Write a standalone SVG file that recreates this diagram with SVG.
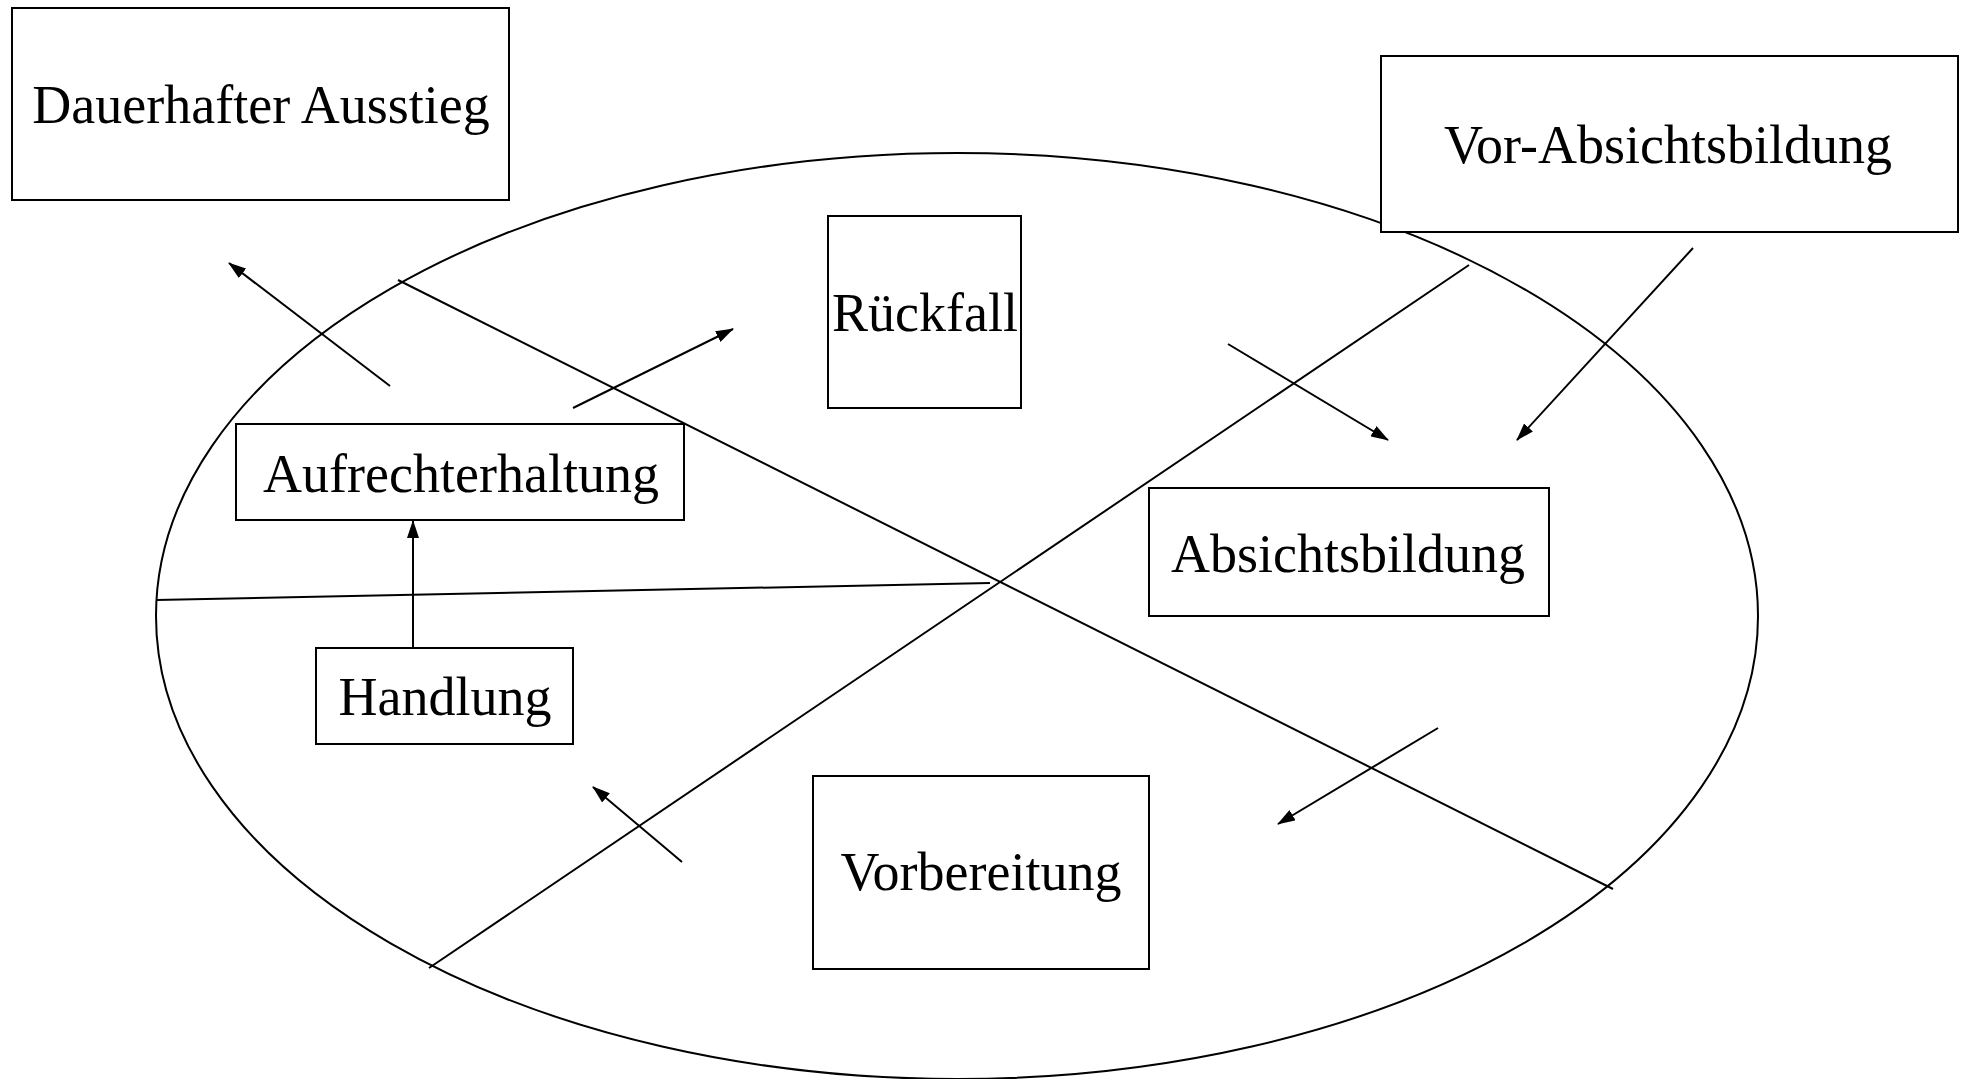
<svg xmlns="http://www.w3.org/2000/svg" width="1961" height="1079" viewBox="0 0 1961 1079">
<style>
.box{fill:#fff;stroke:#000;stroke-width:2}
.lbl{font-family:"Liberation Serif","Times New Roman",serif;font-size:54px;fill:#000;text-anchor:middle}
.ln{stroke:#000;stroke-width:2;fill:none}
.arr{stroke:#000;stroke-width:2;fill:none;marker-end:url(#ah)}
</style>
<defs>
<marker id="ah" markerUnits="userSpaceOnUse" markerWidth="18" markerHeight="12" refX="17" refY="6" orient="auto">
<path d="M0,0 L18,6 L0,12 Z" fill="#000"/>
</marker>
</defs>
<g id="cycle">
<ellipse cx="957" cy="616" rx="801" ry="463" class="ln"/>
</g>
<g id="connectors">
<line x1="398" y1="280" x2="1613" y2="889" class="ln"/>
<line x1="429" y1="968" x2="1469" y2="265" class="ln"/>
<line x1="156" y1="600" x2="990" y2="583" class="ln"/>
<line x1="390" y1="386" x2="229" y2="263" class="arr"/>
<line x1="573" y1="408" x2="733" y2="329" class="arr"/>
<line x1="1228" y1="344" x2="1388" y2="440" class="arr"/>
<line x1="1693" y1="248" x2="1517" y2="440" class="arr"/>
<line x1="1438" y1="728" x2="1278" y2="824" class="arr"/>
<line x1="682" y1="862" x2="593" y2="787" class="arr"/>
<line x1="413" y1="648" x2="413" y2="521" class="arr"/>
</g>
<g id="node-dauerhafter-ausstieg">
<rect x="12" y="8" width="497" height="192" class="box"/>
<text x="261" y="123" class="lbl">Dauerhafter Ausstieg</text>
</g>
<g id="node-vor-absichtsbildung">
<rect x="1381" y="56" width="577" height="176" class="box"/>
<text x="1668" y="163" class="lbl">Vor-Absichtsbildung</text>
</g>
<g id="node-rueckfall">
<rect x="828" y="216" width="193" height="192" class="box"/>
<text x="925" y="331" class="lbl">Rückfall</text>
</g>
<g id="node-aufrechterhaltung">
<rect x="236" y="424" width="448" height="96" class="box"/>
<text x="461" y="492" class="lbl">Aufrechterhaltung</text>
</g>
<g id="node-handlung">
<rect x="316" y="648" width="257" height="96" class="box"/>
<text x="445" y="715" class="lbl">Handlung</text>
</g>
<g id="node-absichtsbildung">
<rect x="1149" y="488" width="400" height="128" class="box"/>
<text x="1348" y="572" class="lbl">Absichtsbildung</text>
</g>
<g id="node-vorbereitung">
<rect x="813" y="776" width="336" height="193" class="box"/>
<text x="981" y="890" class="lbl">Vorbereitung</text>
</g>
</svg>
